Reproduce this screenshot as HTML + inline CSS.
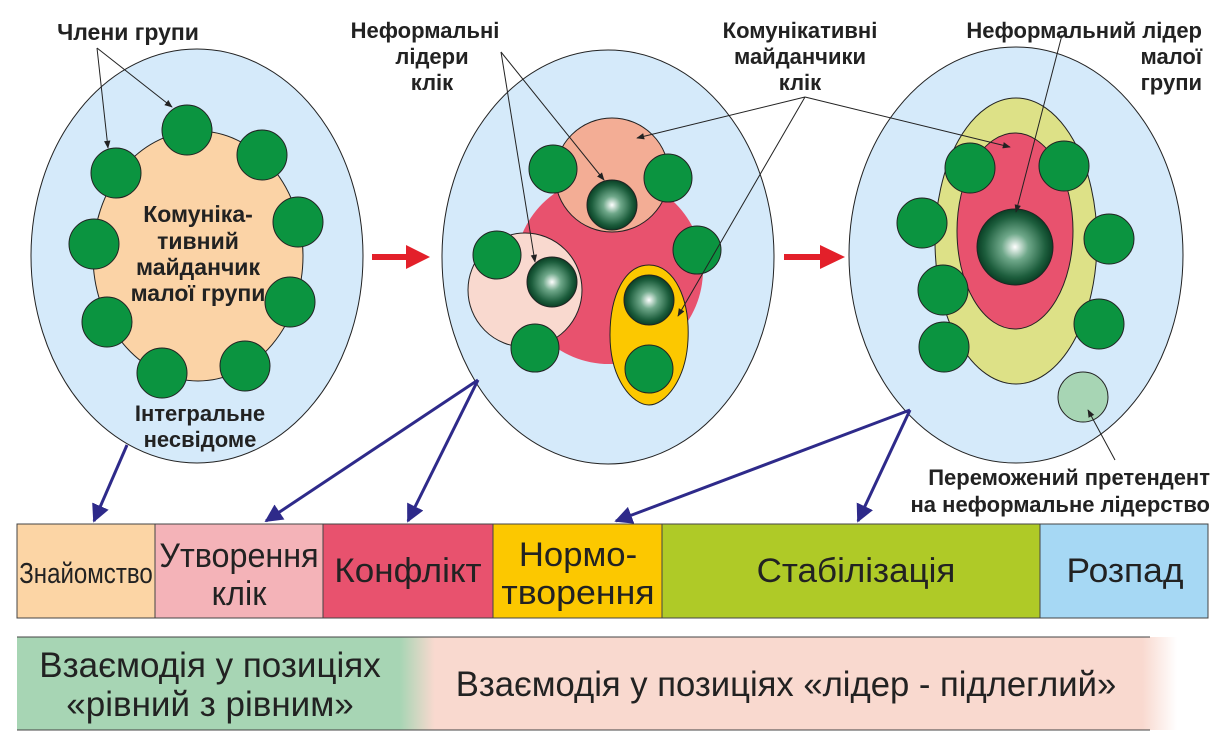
<!DOCTYPE html>
<html><head><meta charset="utf-8"><style>body{margin:0;background:#fff}svg{display:block}</style></head><body>
<svg width="1224" height="750" viewBox="0 0 1224 750" xmlns="http://www.w3.org/2000/svg" font-family="Liberation Sans, sans-serif">
<defs>
<radialGradient id="ld"><stop offset="0" stop-color="#ffffff"/><stop offset="0.35" stop-color="#6fa88a"/><stop offset="0.8" stop-color="#1d5e3d"/><stop offset="1" stop-color="#0a3f25"/></radialGradient>
<marker id="ar" viewBox="0 0 10 10" refX="9" refY="5" markerWidth="8" markerHeight="8" orient="auto"><path d="M0,1 L10,5 L0,9 Z" fill="#222"/></marker>
<marker id="ab" viewBox="0 0 10 10" refX="9" refY="5" markerWidth="6" markerHeight="6" orient="auto"><path d="M0,0 L10,5 L0,10 Z" fill="#2e2a8a"/></marker>
<linearGradient id="bg" x1="0" x2="1"><stop offset="0" stop-color="#a7d5b4"/><stop offset="0.33" stop-color="#a7d5b4"/><stop offset="0.36" stop-color="#f9d9cf"/><stop offset="0.97" stop-color="#f9d9cf"/><stop offset="1" stop-color="#fff"/></linearGradient>
</defs>
<g stroke="#222" stroke-width="1">
<ellipse cx="197" cy="256" rx="166" ry="207" fill="#d5eafa"/>
<ellipse cx="198" cy="256" rx="105" ry="125" fill="#fbd3a6"/>
<g fill="#0b9440">
<circle cx="187" cy="130" r="25"/><circle cx="262" cy="155" r="25"/><circle cx="116" cy="173" r="25"/><circle cx="298" cy="222" r="25"/><circle cx="94" cy="244" r="25"/><circle cx="290" cy="302" r="25"/><circle cx="107" cy="322" r="25"/><circle cx="162" cy="373" r="25"/><circle cx="245" cy="366" r="25"/>
</g>
<ellipse cx="608" cy="257" rx="166" ry="207" fill="#d5eafa"/>
<circle cx="609" cy="270" r="94" fill="#e8526e" stroke="none"/>
<circle cx="612" cy="175" r="57" fill="#f3ad95"/>
<circle cx="525" cy="290" r="57" fill="#f9d9cf"/>
<path d="M649,265 C675,265 690,300 688,340 C686,380 665,405 649,405 C633,405 610,380 610,335 C610,295 625,265 649,265 Z" fill="#fcc800"/>
<g fill="url(#ld)"><circle cx="612" cy="205" r="25"/><circle cx="552" cy="282" r="25"/><circle cx="649" cy="300" r="25"/></g>
<g fill="#0b9440"><circle cx="553" cy="169" r="24"/><circle cx="668" cy="178" r="24"/><circle cx="497" cy="255" r="24"/><circle cx="697" cy="250" r="24"/><circle cx="535" cy="348" r="24"/><circle cx="649" cy="369" r="24"/></g>
<ellipse cx="1016" cy="255" rx="167" ry="208" fill="#d5eafa"/>
<ellipse cx="1016" cy="241" rx="81" ry="143" fill="#dde187"/>
<ellipse cx="1015" cy="231" rx="58" ry="98" fill="#e8526e"/>
<circle cx="1015" cy="247" r="38" fill="url(#ld)"/>
<g fill="#0b9440"><circle cx="970" cy="168" r="25"/><circle cx="1064" cy="166" r="25"/><circle cx="922" cy="223" r="25"/><circle cx="1109" cy="239" r="25"/><circle cx="943" cy="290" r="25"/><circle cx="1099" cy="324" r="25"/><circle cx="944" cy="347" r="25"/></g>
<circle cx="1083" cy="397" r="25" fill="#a7d5b4"/>
</g>
<g stroke="#222" stroke-width="1" fill="none" marker-end="url(#ar)">
<line x1="97" y1="48" x2="108" y2="148"/><line x1="97" y1="48" x2="172" y2="107"/>
<line x1="501" y1="52" x2="535" y2="262"/><line x1="501" y1="52" x2="604" y2="180"/>
<line x1="805" y1="97" x2="637" y2="138"/><line x1="805" y1="97" x2="678" y2="316"/><line x1="805" y1="97" x2="1010" y2="147"/>
<line x1="1062" y1="35" x2="1016" y2="212"/>
<line x1="1115" y1="460" x2="1088" y2="410"/>
</g>
<g fill="#e3202a"><rect x="372" y="254" width="38" height="6"/><path d="M406,245 L430,257 L406,269 Z"/><rect x="784" y="254" width="40" height="6"/><path d="M820,245 L845,257 L820,269 Z"/></g>
<g stroke="#2e2a8a" stroke-width="3" marker-end="url(#ab)">
<line x1="127" y1="445" x2="94" y2="521"/>
<line x1="478" y1="380" x2="266" y2="521"/><line x1="478" y1="380" x2="408" y2="521"/>
<line x1="910" y1="410" x2="616" y2="521"/><line x1="910" y1="410" x2="858" y2="521"/>
</g>
<g font-weight="bold" font-size="22" fill="#222" text-anchor="middle">
<text x="128" y="40" font-size="23">Члени групи</text>
<text x="198" y="222" font-size="23">Комуніка-</text><text x="198" y="249" font-size="23">тивний</text><text x="198" y="275" font-size="23">майданчик</text><text x="198" y="301" font-size="23">малої групи</text>
<text x="200" y="421">Інтегральне</text><text x="200" y="447">несвідоме</text>
<text x="425" y="38">Неформальні</text><text x="432" y="64">лідери</text><text x="432" y="90">клік</text>
<text x="800" y="38">Комунікативні</text><text x="800" y="64">майданчики</text><text x="800" y="90">клік</text>
<g text-anchor="end"><text x="1202" y="38">Неформальний лідер</text><text x="1202" y="64">малої</text><text x="1202" y="90">групи</text>
<text x="1210" y="485">Переможений претендент</text><text x="1210" y="512">на неформальне лідерство</text></g>
</g>
<g stroke="#444" stroke-width="1">
<rect x="17" y="524" width="138" height="94" fill="#fcd5a5"/>
<rect x="155" y="524" width="168" height="94" fill="#f4b3b8"/>
<rect x="323" y="524" width="170" height="94" fill="#e8526e"/>
<rect x="493" y="524" width="169" height="94" fill="#fcc800"/>
<rect x="662" y="524" width="378" height="94" fill="#afca27"/>
<rect x="1040" y="524" width="168" height="94" fill="#a6d8f4"/>
</g>
<g font-size="34" fill="#222" text-anchor="middle">
<text transform="translate(86,583) scale(0.83,1)" font-size="29">Знайомство</text>
<text transform="translate(239,567) scale(0.95,1)">Утворення</text><text transform="translate(239,605) scale(0.95,1)">клік</text>
<text transform="translate(408,582) scale(1.03,1)">Конфлікт</text>
<text transform="translate(578,566) scale(1.02,1)">Нормо-</text><text transform="translate(578,604) scale(1.05,1)">творення</text>
<text transform="translate(856,582) scale(1.03,1)">Стабілізація</text>
<text transform="translate(1125,582) scale(1.04,1)">Розпад</text>
</g>
<rect x="17" y="637" width="1160" height="93" fill="url(#bg)"/>
<line x1="17" y1="637" x2="1150" y2="637" stroke="#444"/><line x1="17" y1="730" x2="1150" y2="730" stroke="#444"/>
<g font-size="35" fill="#222" text-anchor="middle">
<text transform="translate(210,677) scale(1.0,1)">Взаємодія у позиціях</text>
<text transform="translate(210,716) scale(1.0,1)">«рівний з рівним»</text>
<text transform="translate(786,696) scale(0.99,1)">Взаємодія у позиціях «лідер - підлеглий»</text>
</g>
</svg>
</body></html>
